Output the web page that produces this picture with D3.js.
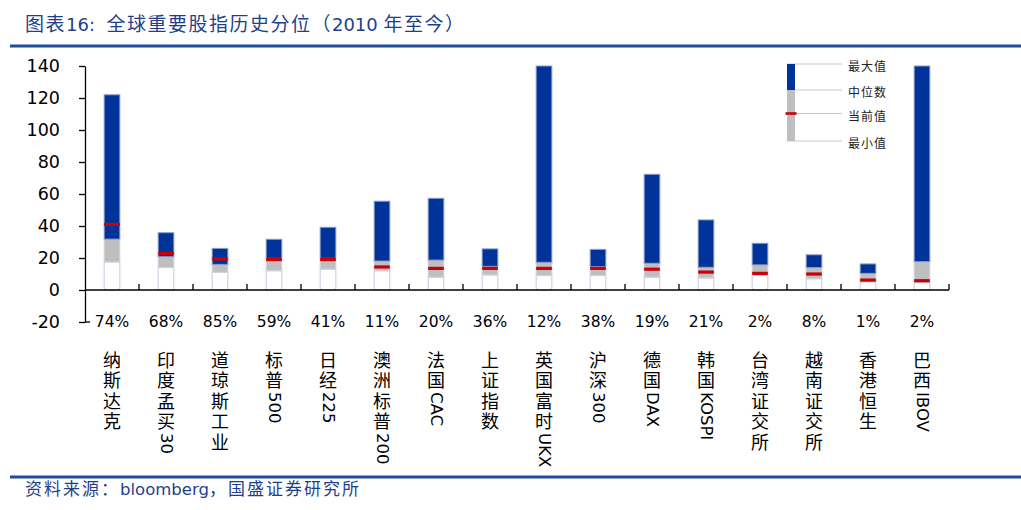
<!DOCTYPE html>
<html>
<head>
<meta charset="utf-8">
<script src="https://cdn.jsdelivr.net/npm/d3@7"></script>
<style>
	body { margin: 0; background: #fff; }
	svg { display: block; }
</style>
</head>
<body>
<svg id="chart" width="1021" height="510"></svg>
<script>
// values (index level percentiles since 2010)
var categories = ["纳斯达克", "印度孟买30", "道琼斯工业", "标普500", "日经225", "澳洲标普200", "法国CAC", "上证指数",
	"英国富时UKX", "沪深300", "德国DAX", "韩国KOSPI", "台湾证交所", "越南证交所", "香港恒生", "巴西IBOV"];
var pctLabels = ["74%", "68%", "85%", "59%", "41%", "11%", "20%", "36%", "12%", "38%", "19%", "21%", "2%", "8%", "1%", "2%"];
var minVals = [17.5, 14, 11, 12, 13, 12, 8, 9.4, 9, 9, 8, 7.5, 9, 7, 5.1, 4.6];
var medianVals = [31.8, 20.8, 16, 19.8, 19.8, 18.1, 18.7, 14.8, 17.3, 14.6, 16.7, 14.2, 15.7, 14, 10.4, 17.7];
var maxVals = [122, 35.8, 26, 31.7, 39.2, 55.5, 57.3, 25.7, 140, 25.4, 72.3, 43.8, 29.2, 22, 16.3, 140];
var currentVals = [41, 22.9, 19.4, 19, 19, 14.4, 13.5, 13.5, 13.5, 13.5, 13, 11.2, 10.4, 10, 6.2, 5.8];
var yTicks = [-20, 0, 20, 40, 60, 80, 100, 120, 140];
var legendLabels = ["最大值", "中位数", "当前值", "最小值"];

var BLUE = "#003399", GREY = "#bfbfbf", RED = "#c8000a", EDGE = "#c5cbe0";
var NAVY = "#1f3f8c", RULE = "#1f4e9c";
var LATIN = "'DejaVu Sans', 'Noto Sans CJK SC', sans-serif";
var CJK = "'Noto Sans CJK SC', sans-serif";

var svg = d3.select("#chart");

var rows = categories.map(function(c, i) {
	return { name: c, pct: pctLabels[i], min: minVals[i], med: medianVals[i], max: maxVals[i], cur: currentVals[i] };
});

var x = d3.scaleBand().domain(categories).range([85, 949]).paddingInner(0.71).paddingOuter(0.355);
var y = d3.scaleLinear().domain([-20, 140]).range([322, 66]);

// header / footer rules
svg.append("rect").attr("x", 10).attr("y", 44.5).attr("width", 1011).attr("height", 3).attr("fill", RULE);
svg.append("rect").attr("x", 10).attr("y", 475.5).attr("width", 1011).attr("height", 3).attr("fill", RULE);

var title = svg.append("text").attr("x", 25).attr("y", 31).attr("fill", NAVY)
	.style("font-family", CJK).style("font-size", "19px");
title.append("tspan").text("图表").style("letter-spacing", "1.5px");
title.append("tspan").text("16:\u00a0\u00a0").style("font-family", LATIN).style("font-size", "18px");
title.append("tspan").text("全球重要股指历史分位（").style("letter-spacing", "1.5px");
title.append("tspan").text("2010 ").style("font-family", LATIN).style("font-size", "18px");
title.append("tspan").text("年至今）").style("letter-spacing", "1.5px");

var foot = svg.append("text").attr("x", 25).attr("y", 495).attr("fill", NAVY)
	.style("font-family", CJK).style("font-size", "17px");
foot.append("tspan").text("资料来源：").style("letter-spacing", "2px");
foot.append("tspan").text("bloomberg").style("font-family", LATIN).style("font-size", "16.5px");
foot.append("tspan").text("，国盛证券研究所").style("letter-spacing", "2px");

// y axis (plain hyphen for negatives, as in the source)
var yAxis = d3.axisLeft(y).tickValues(yTicks).tickSize(6).tickSizeOuter(0).tickPadding(19)
	.tickFormat(function(d) { return String(d); });
var gy = svg.append("g").attr("transform", "translate(85,0)").call(yAxis);
gy.select(".domain").attr("stroke", "#000").attr("stroke-width", 1.3);
gy.selectAll(".tick line").attr("stroke", "#000").attr("stroke-width", 1.3);
gy.selectAll(".tick text").attr("fill", "#000").style("font-family", LATIN).style("font-size", "17.5px");
svg.append("line").attr("x1", 85).attr("x2", 90).attr("y1", y(-20)).attr("y2", y(-20))
	.attr("stroke", "#000").attr("stroke-width", 1.3);

// bars: white to min, grey min->median, blue median->max, red current
var bw = x.bandwidth();
var g = svg.append("g");
var bar = g.selectAll("g.bar").data(rows).enter().append("g").attr("class", "bar");
bar.append("rect")
	.attr("x", function(d) { return x(d.name); }).attr("width", bw)
	.attr("y", function(d) { return y(d.min); })
	.attr("height", function(d) { return y(0) - y(d.min); })
	.attr("fill", "#fff").attr("stroke", EDGE).attr("stroke-width", 1);
bar.append("rect")
	.attr("x", function(d) { return x(d.name); }).attr("width", bw)
	.attr("y", function(d) { return y(d.med); })
	.attr("height", function(d) { return y(d.min) - y(d.med); })
	.attr("fill", GREY).attr("stroke", "#d4d6dc").attr("stroke-width", 1);
bar.append("rect")
	.attr("x", function(d) { return x(d.name); }).attr("width", bw)
	.attr("y", function(d) { return y(d.max); })
	.attr("height", function(d) { return y(d.med) - y(d.max); })
	.attr("fill", BLUE).attr("stroke", "#8a9ccc").attr("stroke-width", 1);
bar.append("rect")
	.attr("x", function(d) { return x(d.name); }).attr("width", bw)
	.attr("y", function(d) { return y(d.cur) - 1.6; })
	.attr("height", 3.2)
	.attr("fill", RED);

// x axis at zero, ticks pointing up between bands
var x0 = y(0);
svg.append("line").attr("x1", 85).attr("x2", 949).attr("y1", x0).attr("y2", x0)
	.attr("stroke", "#000").attr("stroke-width", 1.5);
svg.selectAll("line.xtick").data(categories).enter().append("line").attr("class", "xtick")
	.attr("x1", function(c) { return x(c) + bw + x.step() * x.paddingInner() / 2; })
	.attr("x2", function(c) { return x(c) + bw + x.step() * x.paddingInner() / 2; })
	.attr("y1", x0).attr("y2", x0 - 6)
	.attr("stroke", "#000").attr("stroke-width", 1.3);

// percentile labels
svg.selectAll("text.pct").data(rows).enter().append("text").attr("class", "pct")
	.attr("x", function(d) { return x(d.name) + bw / 2; })
	.attr("y", 326.5)
	.attr("text-anchor", "middle")
	.style("font-family", LATIN).style("font-size", "15.5px")
	.text(function(d) { return d.pct; });

// vertical category names
rows.forEach(function(d) {
	var t = svg.append("text")
		.attr("x", x(d.name) + bw / 2)
		.attr("y", 351)
		.style("writing-mode", "vertical-rl")
		.style("font-family", CJK).style("font-size", "18px");
	d.name.match(/[A-Za-z0-9]+|[^A-Za-z0-9]+/g).forEach(function(run) {
		var s = t.append("tspan").text(run);
		if (/[A-Za-z0-9]/.test(run)) {
			s.style("font-family", LATIN).style("font-size", "16.5px");
		} else {
			s.style("letter-spacing", "2.5px");
		}
	});
});

// legend
var lg = svg.append("g").attr("transform", "translate(787,0)");
var legY = [64, 90, 113.5, 141];
lg.selectAll("line").data(legY).enter().append("line")
	.attr("x1", 0).attr("x2", 55).attr("y1", function(v) { return v; }).attr("y2", function(v) { return v; })
	.attr("stroke", "#c8c8c8").attr("stroke-width", 1);
lg.append("rect").attr("x", 0).attr("y", legY[0]).attr("width", 8).attr("height", legY[1] - legY[0]).attr("fill", BLUE);
lg.append("rect").attr("x", 0).attr("y", legY[1]).attr("width", 8).attr("height", legY[3] - legY[1]).attr("fill", GREY);
lg.append("rect").attr("x", -1.5).attr("y", legY[2] - 1.3).attr("width", 11).attr("height", 2.6).attr("fill", RED);
lg.selectAll("text").data(legendLabels).enter().append("text")
	.attr("x", 61).attr("y", function(t, i) { return legY[i] + 1.5; })
	.attr("dominant-baseline", "central")
	.attr("fill", "#222")
	.style("font-family", CJK).style("font-size", "12px").style("letter-spacing", "1px")
	.text(function(t) { return t; });
</script>
</body>
</html>
